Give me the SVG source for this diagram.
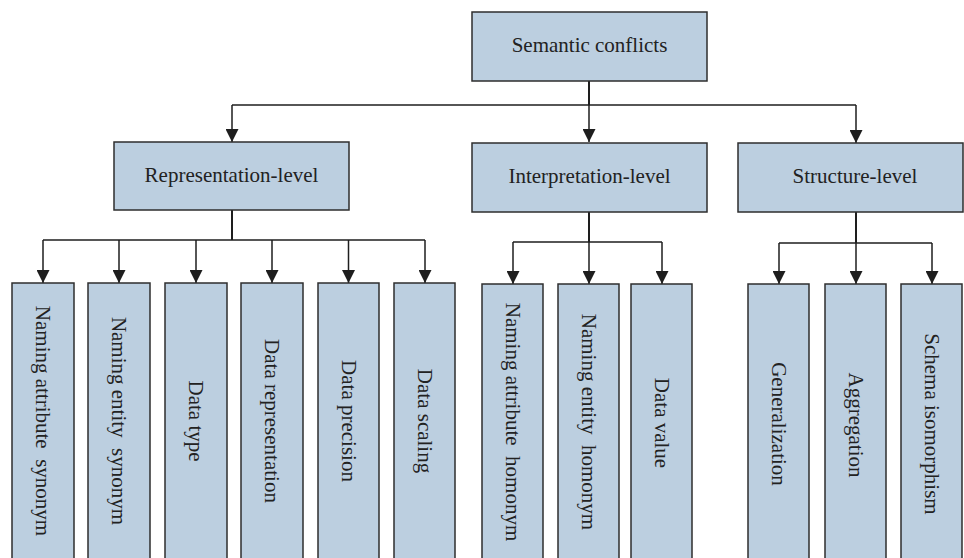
<svg xmlns="http://www.w3.org/2000/svg" width="964" height="558" viewBox="0 0 964 558">
<style>
.box{fill:#bccfe0;stroke:#2e2e2e;stroke-width:1.5}
.t{font-family:"Liberation Serif","Times New Roman",serif;font-size:21px;fill:#222;text-anchor:middle;dominant-baseline:central}
.c{fill:none;stroke:#1e1e1e;stroke-width:1.5}
.k{stroke-width:2}
</style>
<defs>
<marker id="a" markerWidth="13" markerHeight="13" viewBox="0 0 13 13" refX="13" refY="6.5" orient="auto" markerUnits="userSpaceOnUse">
<path d="M0,0 L13,6.5 L0,13 Z" fill="#1e1e1e"/>
</marker>
</defs>
<rect width="964" height="558" fill="#fff"/>
<g id="connectors">
<path class="c k" d="M589,81 V105"/>
<path class="c" d="M232,105 H856"/>
<path class="c" d="M232,105 V142" marker-end="url(#a)"/>
<path class="c" d="M589,105 V142" marker-end="url(#a)"/>
<path class="c" d="M856,105 V143" marker-end="url(#a)"/>
<path class="c k" d="M232,210 V240"/>
<path class="c" d="M43,240 H425"/>
<path class="c" d="M43,240 V283" marker-end="url(#a)"/>
<path class="c" d="M119,240 V283" marker-end="url(#a)"/>
<path class="c" d="M196,240 V283" marker-end="url(#a)"/>
<path class="c" d="M272,240 V283" marker-end="url(#a)"/>
<path class="c" d="M348.5,240 V283" marker-end="url(#a)"/>
<path class="c" d="M425,240 V283" marker-end="url(#a)"/>
<path class="c k" d="M589,212 V242"/>
<path class="c" d="M513,242 H662"/>
<path class="c" d="M513,242 V284" marker-end="url(#a)"/>
<path class="c" d="M589,242 V284" marker-end="url(#a)"/>
<path class="c" d="M662,242 V284" marker-end="url(#a)"/>
<path class="c k" d="M856,212 V243"/>
<path class="c" d="M779,243 H932"/>
<path class="c" d="M779,243 V284" marker-end="url(#a)"/>
<path class="c" d="M856,243 V284" marker-end="url(#a)"/>
<path class="c" d="M932,243 V284" marker-end="url(#a)"/>
</g>
<g id="semantic-conflicts"><rect class="box" x="472" y="12" width="235" height="69"/><text class="t" x="589.5" y="45">Semantic conflicts</text></g>
<g id="representation-level"><rect class="box" x="114" y="142" width="235" height="68"/><text class="t" x="231.5" y="175">Representation-level</text></g>
<g id="interpretation-level"><rect class="box" x="472" y="143" width="235" height="69"/><text class="t" x="589.5" y="176">Interpretation-level</text></g>
<g id="structure-level"><rect class="box" x="738" y="143" width="225" height="69"/><text class="t" x="855" y="176">Structure-level</text></g>
<g id="naming-attribute-synonym"><rect class="box" x="12" y="283" width="62" height="300"/><text class="t" transform="translate(43,421) rotate(90)" xml:space="preserve">Naming attribute  synonym</text></g>
<g id="naming-entity-synonym"><rect class="box" x="88" y="283" width="62" height="300"/><text class="t" transform="translate(119,421) rotate(90)" xml:space="preserve">Naming entity  synonym</text></g>
<g id="data-type"><rect class="box" x="165" y="283" width="62" height="300"/><text class="t" transform="translate(196,421) rotate(90)">Data type</text></g>
<g id="data-representation"><rect class="box" x="241" y="283" width="62" height="300"/><text class="t" transform="translate(272,421) rotate(90)">Data representation</text></g>
<g id="data-precision"><rect class="box" x="318" y="283" width="61" height="300"/><text class="t" transform="translate(348.5,421) rotate(90)">Data precision</text></g>
<g id="data-scaling"><rect class="box" x="394" y="283" width="61" height="300"/><text class="t" transform="translate(424.5,421) rotate(90)">Data scaling</text></g>
<g id="naming-attribute-homonym"><rect class="box" x="482" y="284" width="61" height="300"/><text class="t" transform="translate(512.5,422) rotate(90)" xml:space="preserve">Naming attribute  homonym</text></g>
<g id="naming-entity-homonym"><rect class="box" x="558" y="284" width="61" height="300"/><text class="t" transform="translate(588.5,422) rotate(90)" xml:space="preserve">Naming entity  homonym</text></g>
<g id="data-value"><rect class="box" x="631" y="284" width="61" height="300"/><text class="t" transform="translate(661.5,423) rotate(90)">Data value</text></g>
<g id="generalization"><rect class="box" x="748" y="284" width="61" height="300"/><text class="t" transform="translate(778.5,424) rotate(90)">Generalization</text></g>
<g id="aggregation"><rect class="box" x="825" y="284" width="61" height="300"/><text class="t" transform="translate(855.5,425) rotate(90)">Aggregation</text></g>
<g id="schema-isomorphism"><rect class="box" x="901" y="284" width="61" height="300"/><text class="t" transform="translate(931.5,424) rotate(90)">Schema isomorphism</text></g>
</svg>
